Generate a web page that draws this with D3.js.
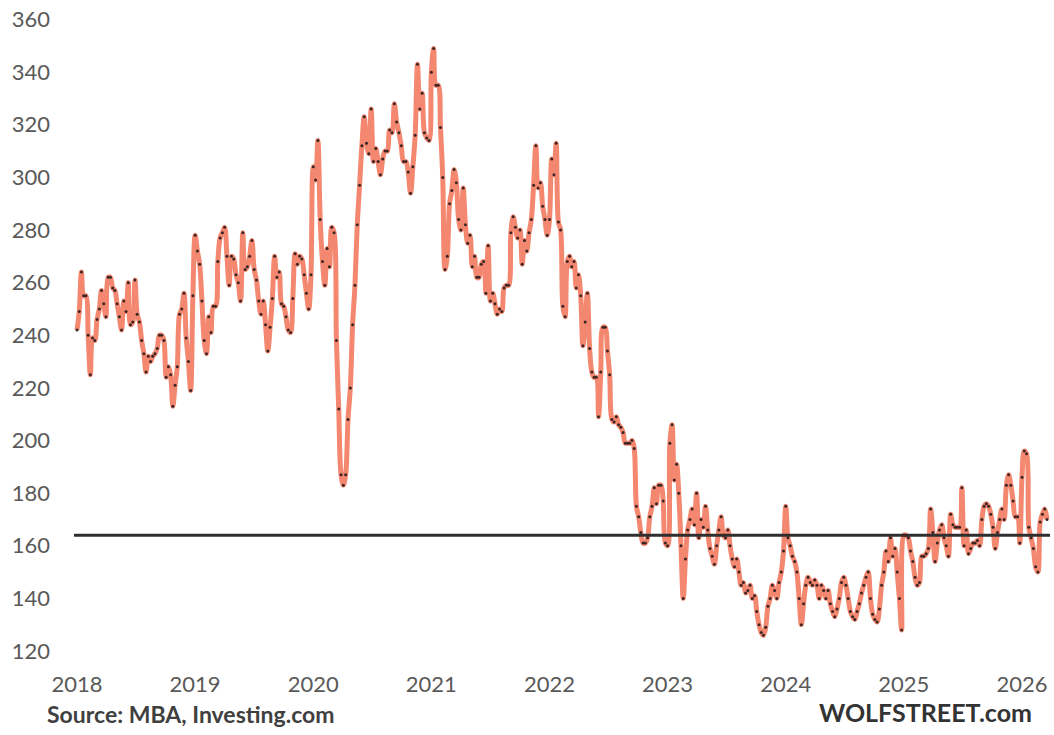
<!DOCTYPE html>
<html lang="en">
<head>
  <meta charset="UTF-8" />
  <title>MBA Purchase Index</title>
  <script src="https://cdn.jsdelivr.net/npm/d3@7"></script>
  <style>
    html, body { margin: 0; padding: 0; background: #fff; }
    svg { display: block; }
  </style>
</head>
<body>
  <script>
    // Weekly index values, one array per year
    const mba2018 = [242,249,264,255,255,240,225,239,238,246,250,257,252,247,262,262,258,257,252,247,242,253,249,260,244,245,261,248,245,238,233,226,232,230,232,233,235,240,240,238,224,228,225,213,221,228,248,250,256,239,230,219,255];
    const mba2019 = [278,272,267,253,238,233,247,241,251,251,268,277,279,281,270,259,270,269,263,260,253,279,265,266,270,276,265,261,253,248,253,244,234,243,254,270,262,264,252,251,247,242,241,254,271,267,270,269,263,256,250,263];
    const mba2020 = [304,299,314,284,268,259,273,266,281,279,238,212,187,183,187,208,220,244,259,282,297,312,323,313,309,326,306,311,306,301,307,310,310,318,317,328,321,317,312,306,306,302,294,304,316,343,326,332,317,315,314];
    const mba2021 = [340,349,335,335,319,300,265,270,290,295,303,298,284,280,296,282,275,278,266,270,262,262,267,268,256,274,253,256,252,248,250,249,258,259,259,279,285,281,277,280,267,276,272,279,284,297,312,296,298,289,284,278];
    const mba2022 = [284,307,301,313,283,280,251,247,268,270,266,268,258,263,255,236,245,256,235,226,224,224,209,226,243,243,234,225,208,207,209,206,205,203,199,199,199,200,197,175,171,165,161,161,163,171,175,182,176,183,183,177,161];
    const mba2023 = [160,199,206,185,191,180,160,140,155,166,170,174,168,180,163,170,167,175,166,159,156,153,160,166,171,164,163,166,160,155,152,155,150,145,146,142,143,145,140,141,135,130,127,126,129,137,140,145,143,140,146,150,158];
    const mba2024 = [175,163,160,156,154,150,140,130,138,145,148,146,145,147,145,140,145,143,140,143,138,135,133,136,140,146,148,145,140,135,133,132,135,138,142,145,148,150,140,134,132,131,136,145,150,158,154,163,156,159,150,140,128];
    const mba2025 = [164,164,163,158,154,148,145,146,156,156,157,159,174,165,154,161,166,168,163,160,156,172,168,167,167,167,182,160,166,157,159,161,161,162,160,170,175,176,175,172,167,159,165,170,174,170,183,187,183,177,171,171,161];
    const mba2026 = [186,196,195,167,163,159,152,150,169,172,174,170];

    const years = [2018, 2019, 2020, 2021, 2022, 2023, 2024, 2025, 2026];
    const valuesByYear = [mba2018, mba2019, mba2020, mba2021, mba2022, mba2023, mba2024, mba2025, mba2026];
    const yTicks = [120, 140, 160, 180, 200, 220, 240, 260, 280, 300, 320, 340, 360];
    const refLevel = 164;

    const width = 1054, height = 735;
    const lineColor = "#f3876f";
    const textGray = "#595959";

    // flatten into points, full years spread evenly, partial year weekly
    const points = [];
    valuesByYear.forEach((vals, k) => {
      const n = k === valuesByYear.length - 1 ? 52 : vals.length;
      vals.forEach((v, i) => points.push({ t: years[k] + i / n, v: v }));
    });

    const x = d3.scaleLinear().domain([2018, 2026]).range([77, 1022]);
    const y = d3.scaleLinear().domain([120, 360]).range([651, 19.5]);

    const svg = d3.select("body").append("svg")
      .attr("width", width)
      .attr("height", height)
      .style("font-family", "Lato, 'Open Sans', sans-serif");

    svg.append("rect").attr("width", width).attr("height", height).attr("fill", "#fff");

    // y labels
    svg.append("g").selectAll("text")
      .data(yTicks)
      .join("text")
        .attr("x", 50)
        .attr("y", d => y(d))
        .attr("dy", "0.35em")
        .attr("text-anchor", "end")
        .attr("fill", textGray)
        .attr("font-size", 22)
        .text(d => d);

    // x labels
    svg.append("g").selectAll("text")
      .data(years)
      .join("text")
        .attr("x", d => x(d))
        .attr("y", 692)
        .attr("text-anchor", "middle")
        .attr("fill", textGray)
        .attr("font-size", 22)
        .text(d => d);

    // smoothed line
    const line = d3.line()
      .x(d => x(d.t))
      .y(d => y(d.v))
      .curve(d3.curveCatmullRom.alpha(0.5));

    svg.append("path")
      .datum(points)
      .attr("fill", "none")
      .attr("stroke", lineColor)
      .attr("stroke-width", 5)
      .attr("stroke-linejoin", "round")
      .attr("d", line);

    // reference level
    svg.append("line")
      .attr("x1", 74)
      .attr("x2", 1050)
      .attr("y1", y(refLevel))
      .attr("y2", y(refLevel))
      .attr("stroke", "#2f2f2f")
      .attr("stroke-width", 3);

    // weekly markers
    svg.append("g").selectAll("circle")
      .data(points)
      .join("circle")
        .attr("cx", d => x(d.t))
        .attr("cy", d => y(d.v))
        .attr("r", 1.5)
        .attr("fill", "#3a2424");

    svg.append("text")
      .attr("x", 47)
      .attr("y", 723)
      .attr("fill", "#404040")
      .attr("font-size", 23)
      .attr("font-weight", "bold")
      .text("Source: MBA, Investing.com");

    svg.append("text")
      .attr("x", 1032)
      .attr("y", 722)
      .attr("text-anchor", "end")
      .attr("fill", "#333")
      .attr("font-size", 25)
      .attr("font-weight", "bold")
      .text("WOLFSTREET.com");
  </script>
</body>
</html>
